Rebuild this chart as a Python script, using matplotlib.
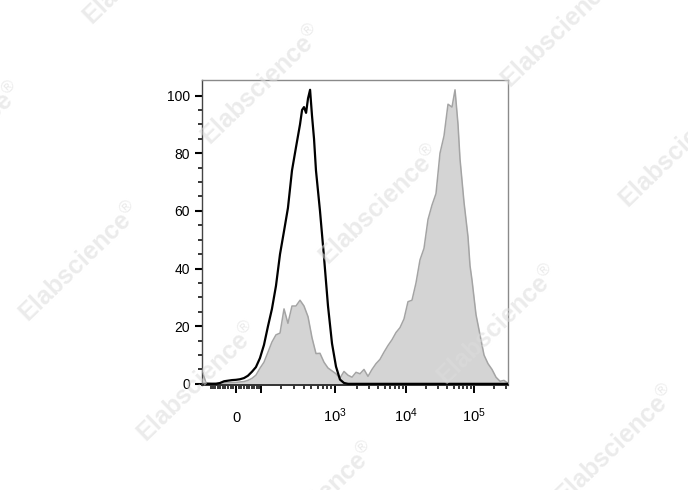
import numpy as np
import matplotlib
matplotlib.use("Agg")
import matplotlib.pyplot as plt
from matplotlib.ticker import FixedLocator, FixedFormatter

plt.rcParams['font.family'] = 'Liberation Sans'
plt.rcParams['mathtext.fontset'] = 'custom'
plt.rcParams['mathtext.rm'] = 'Liberation Sans'
plt.rcParams['mathtext.it'] = 'Liberation Sans:italic'
plt.rcParams['mathtext.bf'] = 'Liberation Sans:bold'

# unstained control (black line)
ctrl_x = [-131, -112, -94, -77, -61, -45, -30, -15, 0, 15, 30, 45, 61, 77, 94, 112,
          131, 151, 173, 197, 223, 251, 283, 318, 358, 380, 402, 427, 452, 480, 508,
          539, 571, 643, 725, 818, 924, 1044, 1181, 1339, 1518, 2224, 8267, 31671,
          122460, 316110]
ctrl_y = [0, 0, 0, 0, 0.3, 0.9, 1.1, 1.3, 1.4, 1.6, 2.0, 2.8, 4.2, 5.8, 8.9, 13.5,
          20, 26, 34, 45, 53, 61, 74, 82, 90, 95, 96, 94, 99, 102, 93,
          85, 74, 60, 44, 27, 14, 6, 1.5, 0.3, 0, 0, 0, 0,
          0, 0]

# stained sample (grey filled)
stain_x = [-136, -122, -94, -61, -30, 0, 30, 45, 61, 77, 94, 112, 131, 151, 173, 197,
           223, 251, 283, 318, 358, 402, 452, 508, 571, 643, 725, 818, 924, 1044, 1181,
           1339, 1518, 1723, 1957, 2224, 2530, 2880, 3281, 3738, 4263, 4864, 5552,
           6337, 7238, 8267, 9447, 10798, 12347, 14120, 16150, 18474, 21136, 24183,
           27673, 31671, 36247, 41490, 47492, 52600, 58180, 62241, 71256, 81578,
           87300, 93402, 106950, 122460, 140220, 160560, 183860, 210520, 241070,
           276050, 316110]
stain_y = [3.8, 0.4, 0.2, 0.3, 0.4, 0.5, 0.8, 1.2, 1.9, 3.0, 5.4, 7.5, 11, 14.5, 17, 17.6,
           26, 21, 27, 27, 29, 27, 23.3, 16, 10.5, 10.6, 7.5, 5.5, 4.5, 3.5, 2.0,
           4.3, 3.0, 2.3, 4.0, 3.5, 5.0, 2.6, 5.0, 7.0, 8.5, 11, 13.3,
           15.3, 17.8, 19.5, 22.5, 28.5, 29, 35, 43, 47, 57, 62,
           66, 80, 86, 97, 96, 102, 90, 78, 63, 51,
           41, 36, 24, 17, 10, 7, 5, 2.3, 0.9,
           1.2, 0.2]

x_major = [0, 100, 1e3, 1e4, 1e5]
x_major_labels = ['0', '', '$10^3$', '$10^4$', '$10^5$']
x_minor = ([-v for v in range(10, 110, 10)] + list(range(10, 100, 10))
           + list(range(200, 1000, 100)) + list(range(2000, 10000, 1000))
           + list(range(20000, 100000, 10000)) + [200000, 300000])

# logicle display transform
T, M, W = 262144, 4.5, 0.577
w = W * np.log(10)
m = M * np.log(10)
lo, hi = 1.0, 10.0
for _ in range(60):
    p = (lo + hi) / 2
    if 2 * p * np.log(p) / (p + 1) < w:
        lo = p
    else:
        hi = p


def logicle_inv(y):
    d = y - w
    s = np.sign(d)
    d = np.abs(d)
    return s * T * np.exp(-(m - w)) * (np.exp(d) - p * p * np.exp(-d / p) + p * p - 1)


grid = np.linspace(w - 4, m + 3, 40001)
vals = logicle_inv(grid)


def fwd(x):
    return np.interp(x, vals, grid)


def inv(y):
    return np.interp(y, grid, vals)


fig = plt.figure(figsize=(6.88, 4.90), dpi=100)
ax = fig.add_axes([202 / 688, 1 - 385 / 490, 306 / 688, 305 / 490])
ax.set_xscale('function', functions=(fwd, inv))

ax.fill_between(stain_x, stain_y, 0, color='#d4d4d4', lw=0, zorder=1)
ax.plot(stain_x, stain_y, color='#a4a4a4', lw=1.1, zorder=2)
ax.plot(ctrl_x, ctrl_y, color='black', lw=1.6, zorder=3)

ax.set_xlim(-141, 316000)
ax.set_ylim(-0.4, 105.4)

ax.xaxis.set_major_locator(FixedLocator(x_major))
ax.xaxis.set_major_formatter(FixedFormatter(x_major_labels))
ax.xaxis.set_minor_locator(FixedLocator(x_minor))
ax.yaxis.set_major_locator(FixedLocator([0, 20, 40, 60, 80, 100]))
ax.yaxis.set_minor_locator(FixedLocator([v for v in range(5, 105, 5) if v % 20]))

ax.tick_params(axis='x', which='major', direction='out', length=6, width=1.4,
               pad=20.5, labelsize=10.5)
ax.tick_params(axis='x', which='minor', direction='out', length=3, width=1.1)
ax.tick_params(axis='y', which='major', direction='out', length=5, width=1.5,
               pad=3.5, labelsize=10)
ax.tick_params(axis='y', which='minor', direction='out', length=3, width=1.1)
plt.setp(ax.get_xticklabels(), va='baseline')

ax.spines['bottom'].set_color('#333333')
ax.spines['bottom'].set_linewidth(1.4)
ax.spines['left'].set_color('#444444')
ax.spines['left'].set_linewidth(1.0)
for s in ['top', 'right']:
    ax.spines[s].set_color('#8a8a8a')
    ax.spines[s].set_linewidth(1.0)

# watermark
for i in range(-3, 4):
    for j in range(-3, 4):
        cx = 80 + 118 * i + 182 * j
        cy = 262 + 120 * i - 177 * j
        if -120 < cx < 810 and -120 < cy < 610:
            fig.text(cx / 688, 1 - cy / 490, 'Elabscience$^{\\circledR}$',
                     rotation=44, ha='center', va='center', rotation_mode='anchor',
                     fontsize=18, fontweight='bold', color='#dcdcdc', alpha=0.55,
                     zorder=10)

fig.savefig('out.png', dpi=100)
